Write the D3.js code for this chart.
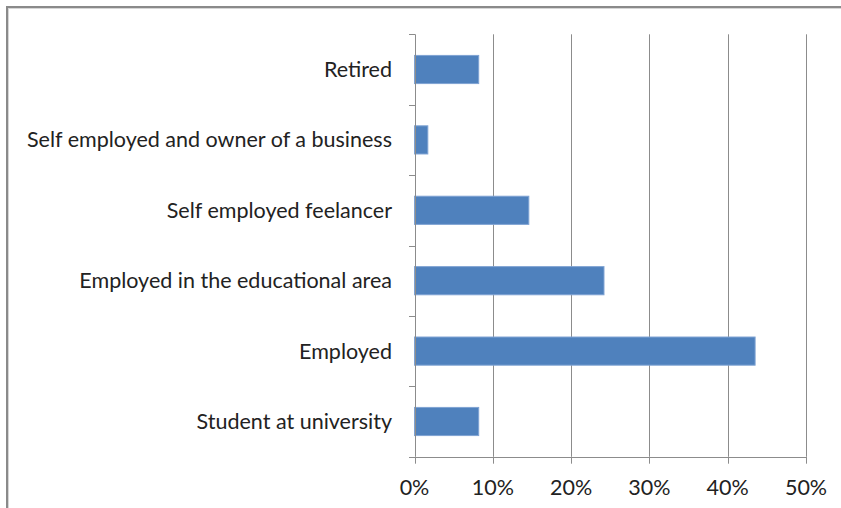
<!DOCTYPE html>
<html>
<head>
<meta charset="utf-8">
<script src="https://cdn.jsdelivr.net/npm/d3@7"></script>
<style>
  html, body { margin: 0; padding: 0; background: #fff; }
  svg { display: block; }
  text { font-family: Lato, "Open Sans", sans-serif; fill: #222; }
</style>
</head>
<body>
<svg id="chart" width="841" height="508"></svg>
<script>
// Occupation of respondents, share of total
const categories = [
  "Retired",
  "Self employed and owner of a business",
  "Self employed feelancer",
  "Employed in the educational area",
  "Employed",
  "Student at university"
];
const shares = [0.082, 0.017, 0.146, 0.242, 0.435, 0.082];
const tickValues = [0, 0.1, 0.2, 0.3, 0.4, 0.5];

const svg = d3.select("#chart");
const W = 841, H = 508;
const fontSize = 21.5;

// outer frame (extends past the right and bottom edges)
svg.append("rect")
  .attr("x", 7).attr("y", 7).attr("width", W + 20).attr("height", H + 20)
  .attr("fill", "none").attr("stroke", "#8a8a8a").attr("stroke-width", 2);
svg.append("rect")
  .attr("x", 8.5).attr("y", 8.5).attr("width", W + 20).attr("height", H + 20)
  .attr("fill", "none").attr("stroke", "#d6d6d6").attr("stroke-width", 1);

const plot = { left: 414.5, right: 806, top: 34.3, bottom: 456.7 };

const x = d3.scaleLinear().domain([0, 0.5]).range([plot.left, plot.right]);
const slot = d3.scaleBand().domain(categories).range([plot.top, plot.bottom]).padding(0);
const y = d3.scaleBand().domain(categories).range([plot.top, plot.bottom])
  .paddingInner(0.6).paddingOuter(0.3);

// vertical gridlines
svg.append("g").selectAll("line")
  .data(tickValues.filter(v => v > 0))
  .join("line")
  .attr("x1", d => Math.round(x(d)) + 0.5).attr("x2", d => Math.round(x(d)) + 0.5)
  .attr("y1", plot.top).attr("y2", plot.bottom)
  .attr("stroke", "#8c8c8c").attr("stroke-width", 1);

// bars
svg.append("g").selectAll("rect")
  .data(categories.map((c, i) => ({ c, v: shares[i] })))
  .join("rect")
  .attr("x", x(0))
  .attr("y", d => y(d.c))
  .attr("width", d => x(d.v) - x(0))
  .attr("height", y.bandwidth())
  .attr("fill", "#4f81bd")
  .attr("stroke", "#7fa3d3")
  .attr("stroke-width", 1);

// category axis
const yAxis = svg.append("g");
yAxis.append("line")
  .attr("x1", Math.round(plot.left) + 0.5).attr("x2", Math.round(plot.left) + 0.5)
  .attr("y1", plot.top).attr("y2", plot.bottom)
  .attr("stroke", "#8c8c8c");
const bounds = categories.map(c => slot(c)).concat([plot.bottom]);
yAxis.selectAll("line.tick")
  .data(bounds)
  .join("line").attr("class", "tick")
  .attr("x1", Math.round(plot.left) - 6).attr("x2", Math.round(plot.left))
  .attr("y1", d => Math.round(d) + 0.5).attr("y2", d => Math.round(d) + 0.5)
  .attr("stroke", "#8c8c8c");
yAxis.selectAll("text")
  .data(categories)
  .join("text")
  .attr("x", 392)
  .attr("y", d => slot(d) + slot.bandwidth() / 2)
  .attr("dy", "0.35em")
  .attr("text-anchor", "end")
  .attr("font-size", fontSize)
  .text(d => d);

// value axis
const xAxis = svg.append("g");
xAxis.append("line")
  .attr("x1", Math.round(plot.left) - 6).attr("x2", plot.right)
  .attr("y1", Math.round(plot.bottom) + 0.5).attr("y2", Math.round(plot.bottom) + 0.5)
  .attr("stroke", "#8c8c8c");
xAxis.selectAll("line.tick")
  .data(tickValues)
  .join("line").attr("class", "tick")
  .attr("x1", d => Math.round(x(d)) + 0.5).attr("x2", d => Math.round(x(d)) + 0.5)
  .attr("y1", plot.bottom).attr("y2", plot.bottom + 7)
  .attr("stroke", "#8c8c8c");
xAxis.selectAll("text")
  .data(tickValues)
  .join("text")
  .attr("x", d => x(d))
  .attr("y", 495)
  .attr("text-anchor", "middle")
  .attr("font-size", fontSize)
  .text(d3.format(".0%"));
</script>
</body>
</html>
